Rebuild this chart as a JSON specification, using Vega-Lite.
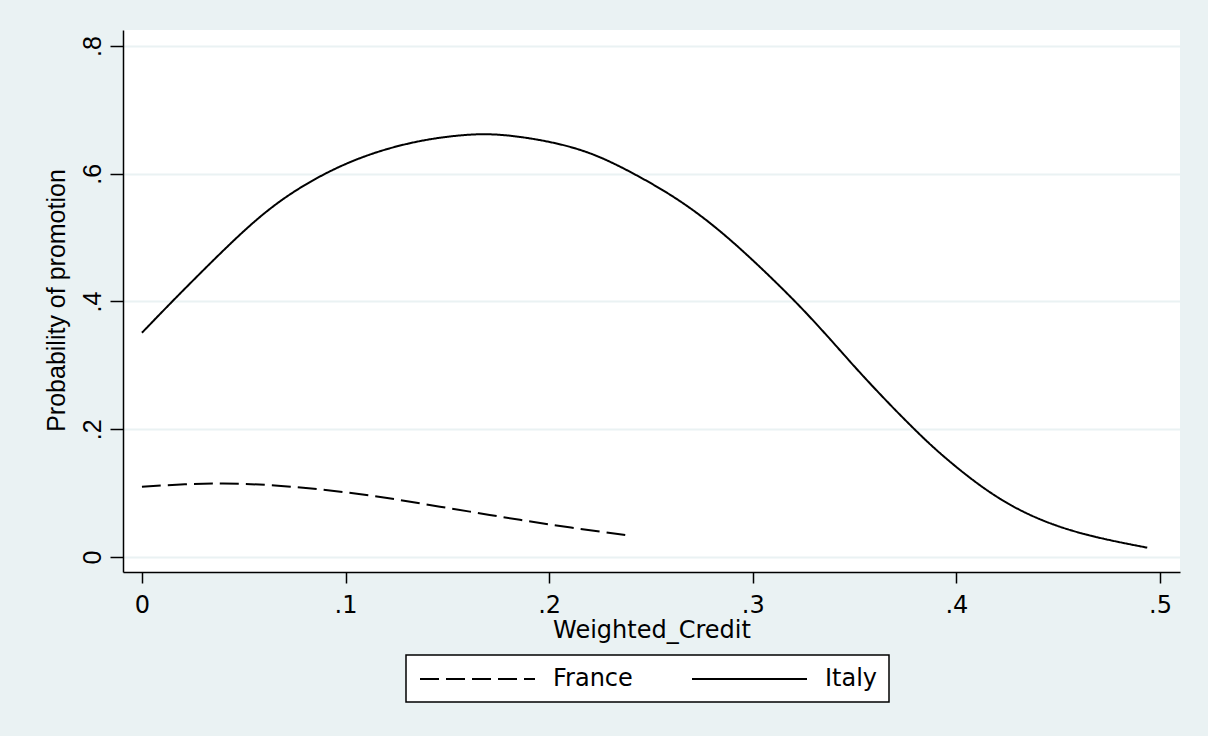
{
  "$schema": "https://vega.github.io/schema/vega-lite/v6.json",
  "width": 1057,
  "height": 542,
  "autosize": {"type": "none"},
  "padding": {"left": 123, "top": 30, "right": 28, "bottom": 164},
  "background": "#EAF2F3",
  "config": {
    "view": {"fill": "white", "stroke": null}
  },
  "data": {
    "values": [
      {"country": "Italy", "credit": 0.0, "prob": 0.351},
      {"country": "Italy", "credit": 0.0154, "prob": 0.402},
      {"country": "Italy", "credit": 0.0367, "prob": 0.470},
      {"country": "Italy", "credit": 0.0547, "prob": 0.525},
      {"country": "Italy", "credit": 0.0711, "prob": 0.566},
      {"country": "Italy", "credit": 0.0908, "prob": 0.603},
      {"country": "Italy", "credit": 0.112, "prob": 0.632},
      {"country": "Italy", "credit": 0.1366, "prob": 0.653},
      {"country": "Italy", "credit": 0.161, "prob": 0.6625},
      {"country": "Italy", "credit": 0.1776, "prob": 0.662},
      {"country": "Italy", "credit": 0.202, "prob": 0.650},
      {"country": "Italy", "credit": 0.2218, "prob": 0.632},
      {"country": "Italy", "credit": 0.2414, "prob": 0.601},
      {"country": "Italy", "credit": 0.2644, "prob": 0.559},
      {"country": "Italy", "credit": 0.2857, "prob": 0.507},
      {"country": "Italy", "credit": 0.307, "prob": 0.444},
      {"country": "Italy", "credit": 0.3266, "prob": 0.382},
      {"country": "Italy", "credit": 0.3463, "prob": 0.311},
      {"country": "Italy", "credit": 0.3545, "prob": 0.282},
      {"country": "Italy", "credit": 0.366, "prob": 0.243},
      {"country": "Italy", "credit": 0.3774, "prob": 0.206},
      {"country": "Italy", "credit": 0.389, "prob": 0.170},
      {"country": "Italy", "credit": 0.405, "prob": 0.127},
      {"country": "Italy", "credit": 0.4216, "prob": 0.089},
      {"country": "Italy", "credit": 0.4397, "prob": 0.059},
      {"country": "Italy", "credit": 0.4626, "prob": 0.034},
      {"country": "Italy", "credit": 0.4937, "prob": 0.0146},
      {"country": "France", "credit": 0.0, "prob": 0.110},
      {"country": "France", "credit": 0.022, "prob": 0.1143},
      {"country": "France", "credit": 0.0383, "prob": 0.1154},
      {"country": "France", "credit": 0.063, "prob": 0.1133},
      {"country": "France", "credit": 0.0875, "prob": 0.106},
      {"country": "France", "credit": 0.112, "prob": 0.097},
      {"country": "France", "credit": 0.1366, "prob": 0.084},
      {"country": "France", "credit": 0.161, "prob": 0.071},
      {"country": "France", "credit": 0.1857, "prob": 0.058},
      {"country": "France", "credit": 0.210, "prob": 0.046},
      {"country": "France", "credit": 0.2385, "prob": 0.034}
    ]
  },
  "mark": {"type": "line", "interpolate": "basis", "strokeWidth": 2, "color": "black"},
  "encoding": {
    "x": {
      "field": "credit",
      "type": "quantitative",
      "scale": {"domain": [-0.0093, 0.5098], "nice": false, "zero": false},
      "axis": {
        "values": [0, 0.1, 0.2, 0.3, 0.4, 0.5],
        "labelExpr": "replace(format(datum.value, '.1~f'), '0.', '.')",
        "title": "Weighted_Credit",
        "grid": false,
        "tickSize": 11,
        "tickWidth": 1.5,
        "tickColor": "black",
        "domainColor": "black",
        "domainWidth": 1.5,
        "labelPadding": 29,
        "labelBaseline": "alphabetic",
        "labelAlign": "center",
        "labelFlush": false,
        "labelOverlap": false,
        "labelFont": "DejaVu Sans",
        "labelFontSize": 24,
        "labelColor": "black",
        "titleFont": "DejaVu Sans",
        "titleFontSize": 24,
        "titleFontWeight": "normal",
        "titleColor": "black",
        "titleY": 65,
        "titleBaseline": "alphabetic"
      }
    },
    "y": {
      "field": "prob",
      "type": "quantitative",
      "scale": {"domain": [-0.0235, 0.825], "nice": false, "zero": false},
      "axis": {
        "values": [0, 0.2, 0.4, 0.6, 0.8],
        "labelExpr": "replace(format(datum.value, '.1~f'), '0.', '.')",
        "title": "Probability of promotion",
        "grid": true,
        "gridColor": "#EAF2F3",
        "gridWidth": 2,
        "tickSize": 13,
        "tickWidth": 1.5,
        "tickColor": "black",
        "domainColor": "black",
        "domainWidth": 1.5,
        "labelAngle": -90,
        "labelAlign": "center",
        "labelBaseline": "alphabetic",
        "labelPadding": 10,
        "labelFlush": false,
        "labelOverlap": false,
        "labelFont": "Liberation Sans",
        "labelFontSize": 25,
        "labelColor": "black",
        "titleFont": "Liberation Sans",
        "titleFontSize": 25,
        "titleFontWeight": "normal",
        "titleColor": "black",
        "titleAngle": -90,
        "titleX": -67,
        "titleY": 270,
        "titleAlign": "center",
        "titleBaseline": "middle"
      }
    },
    "strokeDash": {
      "field": "country",
      "type": "nominal",
      "scale": {"domain": ["France", "Italy"], "range": [[19, 7], [1, 0]]},
      "legend": {
        "title": null,
        "orient": "none",
        "legendX": 283,
        "legendY": 625,
        "direction": "horizontal",
        "fillColor": "white",
        "strokeColor": "black",
        "padding": 11,
        "symbolType": "M-0.833,0H8.75",
        "symbolSize": 576,
        "symbolStrokeWidth": 2,
        "symbolStrokeColor": "black",
        "labelFont": "DejaVu Sans",
        "labelFontSize": 24,
        "labelColor": "black",
        "labelOffset": 110,
        "labelLimit": 0,
        "columnPadding": 55,
        "encode": {
          "legend": {"update": {"strokeWidth": {"value": 1.5}}},
          "symbols": {"update": {"strokeDash": {"signal": "datum.value === 'France' ? [13, 5] : [1, 0]"}}}
        }
      }
    }
  }
}
